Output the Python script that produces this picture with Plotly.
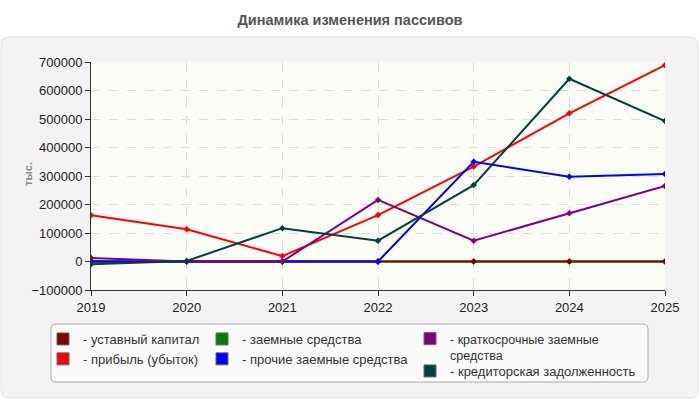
import plotly.graph_objects as go

# данные (тыс.)
years = [2019, 2020, 2021, 2022, 2023, 2024, 2025]
ustavny = [0, 0, 0, 0, 0, 0, 0]
pribyl = [162000, 113000, 19000, 163000, 333000, 520000, 689000]
zaemnye = [0, 0, 0, 0, 0, 0, 0]
prochie = [0, 0, 0, 0, 350000, 297000, 307000]
kratkosroch = [12000, 0, 0, 216000, 73000, 169000, 265000]
kreditor = [-10000, 2000, 117000, 73000, 268000, 641000, 493000]

names = ['- уставный капитал', '- прибыль (убыток)', '- заемные средства',
         '- прочие заемные средства', '- краткосрочные заемные<br>средства',
         '- кредиторская задолженность']
colors = ['#800000', '#ff0000', '#008000', '#0000ff', '#800080', '#004040']
series = [ustavny, pribyl, zaemnye, prochie, kratkosroch, kreditor]
legends = ['legend', 'legend', 'legend2', 'legend2', 'legend3', 'legend4']

# plot area in pixels
W, H = 700, 400
L, R, T, B = 91, 35, 62, 110
pw, ph = W - L - R, H - T - B


def px_x(p):
    return (p - L) / pw


def px_y(p):
    return (H - B - p) / ph


def rounded(x0, y0, x1, y1, r):
    # прямоугольник со скруглёнными углами, координаты в пикселях
    rx, ry = r / pw, r / ph
    a, b, c, d = px_x(x0), px_y(y0), px_x(x1), px_y(y1)
    return (f'M{a+rx},{b} L{c-rx},{b} Q{c},{b} {c},{b-ry} '
            f'L{c},{d+ry} Q{c},{d} {c-rx},{d} L{a+rx},{d} '
            f'Q{a},{d} {a},{d+ry} L{a},{b-ry} Q{a},{b} {a+rx},{b} Z')


fig = go.Figure()

draw_order = [2, 0, 1, 3, 4, 5]
for i in draw_order:
    fig.add_trace(go.Scatter(x=years, y=series[i], mode='lines+markers',
                             line=dict(color=colors[i], width=2),
                             marker=dict(symbol='diamond', size=5, color=colors[i]),
                             showlegend=False, name=names[i]))

# элементы легенды
for i in range(6):
    fig.add_trace(go.Bar(x=[None], y=[None], name=names[i], legend=legends[i],
                         marker=dict(color=colors[i], line=dict(color='#666', width=1))))

fig.update_layout(
    width=W, height=H,
    margin=dict(l=L, r=R, t=T, b=B),
    paper_bgcolor='white',
    plot_bgcolor='rgba(0,0,0,0)',
    font=dict(family='Liberation Sans', size=12, color='#222'),
    title=dict(text='Динамика изменения пассивов', xref='container', x=0.5,
               yref='container', y=0.95, yanchor='middle',
               font=dict(size=14.5, color='#555', weight='bold')),
    shapes=[
        dict(type='path', xref='paper', yref='paper', layer='below',
             path=rounded(1, 37, 698, 398, 8),
             fillcolor='#f3f3f3', line=dict(color='#e2e2e2', width=1)),
        dict(type='rect', xref='paper', yref='paper', layer='below',
             x0=0, x1=1, y0=0, y1=1, fillcolor='#fcfcf7', line=dict(width=0)),
        dict(type='path', xref='paper', yref='paper', layer='below',
             path=rounded(51, 324, 648, 382, 5),
             fillcolor='#fafafa', line=dict(color='#aaa', width=1)),
    ],
    annotations=[dict(text='тыс.', xref='paper', yref='paper', x=px_x(20), y=px_y(174),
                      textangle=-90, showarrow=False,
                      font=dict(size=11, color='#888', weight='bold'))],
    xaxis=dict(range=[2019, 2025], dtick=1, showline=True, linecolor='#333',
               ticks='outside', ticklen=5, tickcolor='#333',
               showgrid=True, gridcolor='#dcdcdc', griddash='dash', zeroline=False,
               tickfont=dict(size=13)),
    yaxis=dict(range=[-100000, 700000], dtick=100000, tickformat='d',
               showline=True, linecolor='#333', ticks='outside', ticklen=5,
               tickcolor='#333', showgrid=True, gridcolor='#dcdcdc',
               griddash='dash', zeroline=False, tickfont=dict(size=13)),
)

leg_style = dict(bgcolor='rgba(0,0,0,0)', borderwidth=0, yanchor='top', xanchor='left',
                 tracegroupgap=0, valign='top')
fig.update_layout(
    legend=dict(x=px_x(43), y=px_y(324), font=dict(size=13, color='#333'), **leg_style),
    legend2=dict(x=px_x(202), y=px_y(324), font=dict(size=13, color='#333'), **leg_style),
    legend3=dict(x=px_x(410), y=px_y(324), font=dict(size=12.5, color='#333'), **leg_style),
    legend4=dict(x=px_x(410), y=px_y(356), font=dict(size=13, color='#333'), **leg_style),
)

fig.write_html("out.html", config={'displayModeBar': False},
               post_script="document.body.style.margin='0';")
